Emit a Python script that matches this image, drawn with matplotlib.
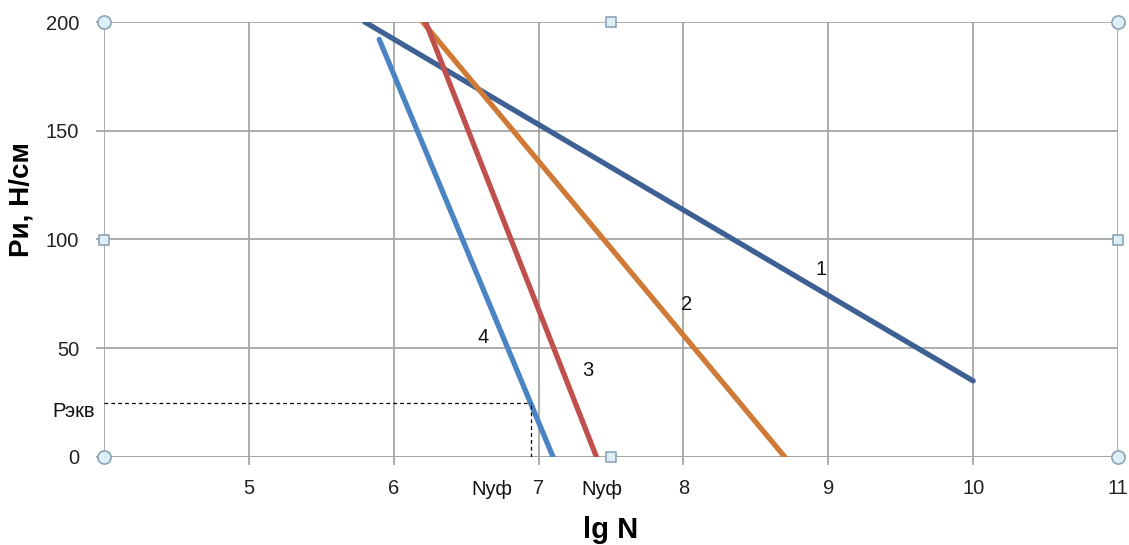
import numpy as np
import matplotlib.pyplot as plt

plt.rcParams['font.family'] = ['Liberation Sans', 'DejaVu Sans']

# line end points (lg N, Pи)
x1 = [5.8, 10.0]
y1 = [200, 35]
x2 = [6.2, 8.7]
y2 = [200, 0]
x3 = [6.22, 7.4]
y3 = [200, 0]
x4 = [5.9, 7.1]
y4 = [192, 0]

labels = ['1', '2', '3', '4']
label_x = [8.95, 8.02, 7.34, 6.62]
label_y = [86, 70, 40, 55]
colors = ['#3E6094', '#CF7B37', '#C0504D', '#4A84C3']

p_ekv = 25
n_uf = 6.95
n_uf_text = [6.68, 7.44]

xticks = [5, 6, 7, 8, 9, 10, 11]
yticks = [0, 50, 100, 150, 200]

fig = plt.figure(figsize=(11.29, 5.45), dpi=100)
ax = fig.add_axes([104/1129, 88/545, 1014/1129, 435/545])

ax.set_xlim(4, 11)
ax.set_ylim(0, 200)
ax.set_xticks(xticks)
ax.set_yticks(yticks)
ax.grid(True, color='#A6A6A6', lw=1.3)
ax.set_axisbelow(True)
for s in ax.spines.values():
    s.set_visible(False)
ax.tick_params(axis='both', colors='#A6A6A6', length=6, width=1.3,
               labelsize=14.5, labelcolor='#222222')
ax.tick_params(axis='x', pad=10)
ax.tick_params(axis='y', pad=12)
ax.axhline(0, color='#A6A6A6', lw=1.3)
ax.axvline(4, color='#A6A6A6', lw=1.3)

for xs, ys, c in zip([x1, x2, x3, x4], [y1, y2, y3, y4], colors):
    ax.plot(xs, ys, color=c, lw=3.8, solid_capstyle='round')

for t, tx, ty in zip(labels, label_x, label_y):
    ax.text(tx, ty, t, fontsize=14.5, ha='center', va='center', color='#111111')

# equivalent load construction
ax.plot([4, n_uf], [p_ekv, p_ekv], color='black', lw=0.9, ls=(0, (3, 2.5)))
ax.plot([n_uf, n_uf], [0, p_ekv], color='black', lw=0.9, ls=(0, (3, 2.5)))
ax.text(3.94, 21, 'Рэкв', fontsize=14.5, ha='right', va='center',
        color='#111111')
for tx in n_uf_text:
    ax.text(tx, -15, 'Nуф', fontsize=14.5, ha='center', va='center',
            color='#111111')

ax.set_xlabel('lg N', fontsize=21, fontweight='bold')
ax.xaxis.set_label_coords(0.5, -0.135)
ax.set_ylabel('Ри, Н/см', fontsize=20, fontweight='bold')
ax.yaxis.set_label_coords(-0.069, 0.593)

# selection handles of the chart area
hx = [0, 1, 0, 1]
hy = [0, 0, 1, 1]
ax.scatter(hx, hy, s=90, marker='o', facecolor='#DCEFF5', edgecolor='#8EA3B5',
           lw=1.2, transform=ax.transAxes, clip_on=False, zorder=5)
sx = [0.5, 0.5, 0, 1]
sy = [0, 1, 0.5, 0.5]
ax.scatter(sx, sy, s=55, marker='s', facecolor='#DCEFF5', edgecolor='#8EA3B5',
           lw=1.2, transform=ax.transAxes, clip_on=False, zorder=5)

fig.savefig('out.png', dpi=100)
